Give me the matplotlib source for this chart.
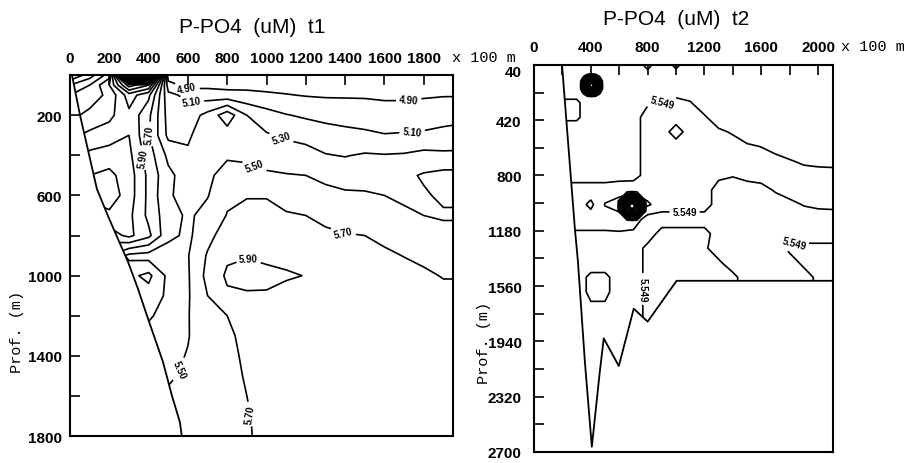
import numpy as np
import matplotlib.pyplot as plt

plt.rcParams['font.family'] = ['Liberation Sans', 'DejaVu Sans']

# ---------------- section t1 ----------------
# station distance (x 100 m) and sample depths (m)
T1_X = [0, 100, 200, 300, 400, 500, 600, 700, 800, 900, 1000,
        1100, 1200, 1300, 1400, 1500, 1600, 1700, 1800, 1900, 2000]
T1_DEPTH = [0, 50, 100, 200, 300, 400, 500, 600, 700, 800, 900,
            1000, 1100, 1200, 1300, 1400, 1500, 1600, 1700, 1800]
# P-PO4 (uM), one profile per station, surface to bottom
T1_PO4 = [
    [4.90, 5.30, 5.50, 5.65, 5.85, 6.00, 6.10, 6.20, 6.10, 5.90, 5.70, 5.60, 5.50, 5.45, 5.45, 5.45, 5.45, 5.45, 5.45, 5.45],
    [5.20, 5.50, 5.60, 5.75, 5.95, 6.15, 6.30, 6.35, 6.20, 6.00, 5.80, 5.60, 5.50, 5.45, 5.45, 5.45, 5.45, 5.45, 5.45, 5.45],
    [5.60, 5.90, 5.75, 5.85, 6.00, 6.20, 6.35, 6.42, 6.25, 6.00, 5.70, 5.60, 5.50, 5.45, 5.45, 5.45, 5.45, 5.45, 5.45, 5.45],
    [9.00, 6.80, 6.20, 6.05, 6.10, 6.15, 6.20, 6.20, 6.15, 6.15, 5.45, 5.65, 5.60, 5.50, 5.45, 5.45, 5.45, 5.45, 5.45, 5.45],
    [9.00, 6.50, 5.95, 5.75, 5.72, 5.80, 5.85, 5.85, 5.85, 5.95, 5.42, 5.75, 5.62, 5.52, 5.45, 5.45, 5.45, 5.45, 5.45, 5.45],
    [4.75, 5.00, 5.15, 5.22, 5.25, 5.45, 5.55, 5.52, 5.58, 5.55, 5.40, 5.45, 5.46, 5.44, 5.43, 5.45, 5.48, 5.52, 5.55, 5.55],
    [4.72, 4.82, 5.05, 5.20, 5.27, 5.33, 5.40, 5.44, 5.47, 5.46, 5.49, 5.48, 5.48, 5.49, 5.49, 5.51, 5.53, 5.54, 5.55, 5.55],
    [4.78, 4.85, 5.00, 5.36, 5.42, 5.45, 5.47, 5.49, 5.56, 5.64, 5.72, 5.76, 5.70, 5.64, 5.62, 5.60, 5.58, 5.57, 5.56, 5.56],
    [4.78, 4.84, 4.97, 5.62, 5.40, 5.48, 5.56, 5.66, 5.71, 5.80, 5.87, 5.93, 5.87, 5.70, 5.66, 5.64, 5.63, 5.62, 5.61, 5.60],
    [4.78, 4.85, 4.95, 5.30, 5.38, 5.47, 5.55, 5.69, 5.75, 5.82, 5.89, 5.96, 5.88, 5.80, 5.76, 5.74, 5.72, 5.70, 5.68, 5.67],
    [4.78, 4.84, 4.93, 5.18, 5.32, 5.44, 5.52, 5.69, 5.75, 5.80, 5.86, 5.95, 5.88, 5.82, 5.80, 5.79, 5.78, 5.78, 5.78, 5.78],
    [4.78, 4.83, 4.91, 5.11, 5.27, 5.40, 5.51, 5.62, 5.72, 5.78, 5.85, 5.92, 5.84, 5.80, 5.79, 5.78, 5.78, 5.78, 5.78, 5.78],
    [4.78, 4.82, 4.89, 5.07, 5.24, 5.37, 5.50, 5.60, 5.70, 5.77, 5.85, 5.895, 5.83, 5.80, 5.79, 5.78, 5.78, 5.78, 5.78, 5.78],
    [4.78, 4.82, 4.88, 5.04, 5.19, 5.31, 5.45, 5.56, 5.66, 5.73, 5.79, 5.83, 5.81, 5.80, 5.79, 5.78, 5.78, 5.78, 5.78, 5.78],
    [4.78, 4.82, 4.88, 5.02, 5.16, 5.29, 5.42, 5.53, 5.63, 5.71, 5.77, 5.80, 5.80, 5.80, 5.79, 5.79, 5.78, 5.78, 5.78, 5.78],
    [4.78, 4.82, 4.88, 5.00, 5.14, 5.32, 5.43, 5.52, 5.62, 5.70, 5.76, 5.79, 5.80, 5.80, 5.79, 5.79, 5.78, 5.78, 5.78, 5.78],
    [4.78, 4.82, 4.87, 4.98, 5.11, 5.31, 5.42, 5.50, 5.58, 5.66, 5.73, 5.78, 5.80, 5.80, 5.79, 5.79, 5.78, 5.78, 5.78, 5.78],
    [4.78, 4.82, 4.87, 4.98, 5.12, 5.32, 5.46, 5.47, 5.53, 5.60, 5.695, 5.76, 5.79, 5.80, 5.80, 5.79, 5.78, 5.78, 5.78, 5.78],
    [4.78, 4.83, 4.88, 5.00, 5.13, 5.36, 5.52, 5.48, 5.50, 5.58, 5.66, 5.73, 5.77, 5.79, 5.80, 5.80, 5.79, 5.78, 5.78, 5.78],
    [4.78, 4.84, 4.89, 5.02, 5.16, 5.34, 5.56, 5.53, 5.48, 5.56, 5.63, 5.69, 5.75, 5.78, 5.80, 5.80, 5.79, 5.78, 5.78, 5.78],
    [4.78, 4.84, 4.89, 5.04, 5.18, 5.34, 5.56, 5.53, 5.48, 5.56, 5.63, 5.69, 5.75, 5.78, 5.80, 5.80, 5.79, 5.78, 5.78, 5.78],
]
# continental slope (bottom profile)
T1_SLOPE_X = [10, 51, 137, 193, 244, 295, 346, 397, 473, 519, 559, 569]
T1_SLOPE_D = [0, 200, 568, 702, 817, 931, 1066, 1215, 1430, 1600, 1730, 1800]

# ---------------- section t2 ----------------
T2_X = [0, 100, 200, 300, 400, 500, 600, 700, 800, 900, 1000,
        1100, 1200, 1300, 1400, 1500, 1600, 1700, 1800, 1900, 2000, 2100]
T2_DEPTH = [0, 100, 200, 300, 400, 500, 600, 700, 800, 900, 1000, 1100,
            1200, 1300, 1400, 1500, 1600, 1800, 2000, 2200, 2400, 2600, 2800]
T2_PO4 = [
    [5.45, 5.45, 5.45, 5.58, 5.58, 5.45, 5.45, 5.45, 5.45, 5.65, 5.65, 5.65, 5.45, 5.45, 5.45, 5.45, 5.45, 5.45, 5.45, 5.45, 5.45, 5.45, 5.45],
    [5.45, 5.45, 5.45, 5.58, 5.58, 5.45, 5.45, 5.45, 5.45, 5.65, 5.65, 5.65, 5.45, 5.45, 5.45, 5.45, 5.45, 5.45, 5.45, 5.45, 5.45, 5.45, 5.45],
    [5.45, 5.45, 5.45, 5.58, 5.58, 5.45, 5.45, 5.45, 5.45, 5.65, 5.65, 5.65, 5.45, 5.45, 5.45, 5.45, 5.45, 5.45, 5.45, 5.45, 5.45, 5.45, 5.45],
    [5.45, 5.45, 5.45, 5.58, 5.58, 5.45, 5.45, 5.45, 5.45, 5.65, 5.65, 5.65, 5.52, 5.45, 5.45, 5.45, 5.45, 5.45, 5.45, 5.45, 5.45, 5.45, 5.45],
    [5.45, 5.48, 5.52, 5.45, 5.45, 5.45, 5.45, 5.45, 5.45, 5.65, 5.50, 5.65, 5.52, 5.45, 5.45, 5.30, 5.30, 5.45, 5.45, 5.45, 5.45, 5.45, 5.45],
    [5.45, 5.45, 5.45, 5.45, 5.45, 5.45, 5.45, 5.45, 5.45, 5.65, 5.76, 5.65, 5.52, 5.45, 5.45, 5.30, 5.30, 5.45, 5.45, 5.45, 5.45, 5.45, 5.45],
    [5.45, 5.45, 5.45, 5.45, 5.45, 5.45, 5.45, 5.45, 5.45, 5.70, 5.80, 5.70, 5.52, 5.45, 5.45, 5.45, 5.45, 5.45, 5.45, 5.45, 5.45, 5.45, 5.45],
    [5.45, 5.45, 5.45, 5.45, 5.45, 5.45, 5.45, 5.45, 5.45, 5.72, 5.85, 5.68, 5.50, 5.45, 5.45, 5.45, 5.45, 5.45, 5.45, 5.45, 5.45, 5.45, 5.45],
    [5.80, 5.45, 5.45, 5.52, 5.65, 5.65, 5.65, 5.65, 5.65, 5.65, 5.78, 5.45, 5.45, 5.60, 5.60, 5.60, 5.60, 5.60, 5.60, 5.60, 5.60, 5.60, 5.60],
    [5.45, 5.45, 5.45, 5.55, 5.65, 5.65, 5.65, 5.65, 5.65, 5.65, 5.65, 5.45, 5.62, 5.60, 5.60, 5.60, 5.60, 5.60, 5.60, 5.60, 5.60, 5.60, 5.60],
    [5.75, 5.45, 5.45, 5.60, 5.65, 5.45, 5.65, 5.65, 5.65, 5.65, 5.65, 5.45, 5.62, 5.60, 5.60, 5.60, 5.60, 5.60, 5.60, 5.60, 5.60, 5.60, 5.60],
    [5.45, 5.45, 5.45, 5.56, 5.65, 5.65, 5.65, 5.65, 5.65, 5.65, 5.65, 5.45, 5.62, 5.60, 5.60, 5.60, 5.60, 5.60, 5.60, 5.60, 5.60, 5.60, 5.60],
    [5.45, 5.45, 5.45, 5.45, 5.57, 5.65, 5.65, 5.65, 5.65, 5.65, 5.65, 5.45, 5.62, 5.58, 5.60, 5.60, 5.60, 5.60, 5.60, 5.60, 5.60, 5.60, 5.60],
    [5.45, 5.45, 5.45, 5.45, 5.45, 5.58, 5.65, 5.65, 5.60, 5.45, 5.45, 5.45, 5.45, 5.45, 5.58, 5.60, 5.60, 5.60, 5.60, 5.60, 5.60, 5.60, 5.60],
    [5.45, 5.45, 5.45, 5.45, 5.45, 5.53, 5.62, 5.65, 5.56, 5.45, 5.45, 5.45, 5.45, 5.45, 5.45, 5.60, 5.60, 5.60, 5.60, 5.60, 5.60, 5.60, 5.60],
    [5.45, 5.45, 5.45, 5.45, 5.45, 5.46, 5.57, 5.65, 5.60, 5.47, 5.45, 5.45, 5.45, 5.45, 5.45, 5.45, 5.45, 5.45, 5.45, 5.45, 5.45, 5.45, 5.45],
    [5.45, 5.45, 5.45, 5.45, 5.45, 5.45, 5.545, 5.62, 5.63, 5.48, 5.45, 5.45, 5.45, 5.45, 5.45, 5.45, 5.45, 5.45, 5.45, 5.45, 5.45, 5.45, 5.45],
    [5.45, 5.45, 5.45, 5.45, 5.45, 5.45, 5.47, 5.62, 5.65, 5.57, 5.45, 5.45, 5.45, 5.45, 5.45, 5.45, 5.45, 5.45, 5.45, 5.45, 5.45, 5.45, 5.45],
    [5.45, 5.45, 5.45, 5.45, 5.45, 5.45, 5.45, 5.56, 5.65, 5.63, 5.50, 5.45, 5.45, 5.60, 5.45, 5.45, 5.45, 5.45, 5.45, 5.45, 5.45, 5.45, 5.45],
    [5.45, 5.45, 5.45, 5.45, 5.45, 5.45, 5.45, 5.52, 5.62, 5.65, 5.56, 5.45, 5.45, 5.60, 5.60, 5.45, 5.45, 5.45, 5.45, 5.45, 5.45, 5.45, 5.45],
    [5.45, 5.45, 5.45, 5.45, 5.45, 5.45, 5.45, 5.50, 5.62, 5.65, 5.59, 5.45, 5.45, 5.60, 5.60, 5.60, 5.60, 5.60, 5.60, 5.60, 5.60, 5.60, 5.60],
    [5.45, 5.45, 5.45, 5.45, 5.45, 5.45, 5.45, 5.49, 5.62, 5.65, 5.60, 5.45, 5.45, 5.60, 5.60, 5.60, 5.60, 5.60, 5.60, 5.60, 5.60, 5.60, 5.60],
]
# the two PO4 maxima of t2, sampled on a finer local grid (rows = depth)
T2_PEAK1_X = [324, 351, 378, 405, 432, 459, 486]
T2_PEAK1_D = [99, 126, 153, 180, 207, 234, 261]
T2_PEAK1 = [
    [5.40, 5.40, 5.40, 5.40, 5.40, 5.40, 5.40],
    [5.40, 5.61, 6.32, 6.60, 6.32, 5.61, 5.40],
    [5.40, 6.32, 7.30, 7.80, 7.30, 6.32, 5.40],
    [5.40, 6.60, 7.80, 9.00, 7.80, 6.60, 5.40],
    [5.40, 6.32, 7.30, 7.80, 7.30, 6.32, 5.40],
    [5.40, 5.61, 6.32, 6.60, 6.32, 5.61, 5.40],
    [5.40, 5.40, 5.40, 5.40, 5.40, 5.40, 5.40],
]
T2_PEAK2_X = [585, 620, 655, 690, 725, 760, 795]
T2_PEAK2_D = [905, 940, 975, 1010, 1045, 1080, 1115]
T2_PEAK2 = [
    [5.80, 5.80, 5.80, 5.80, 5.80, 5.80, 5.80],
    [5.80, 5.80, 6.47, 6.73, 6.47, 5.80, 5.80],
    [5.80, 6.47, 7.40, 7.87, 7.40, 6.47, 5.80],
    [5.80, 6.73, 7.87, 9.00, 7.87, 6.73, 5.80],
    [5.80, 6.47, 7.40, 7.87, 7.40, 6.47, 5.80],
    [5.80, 5.80, 6.47, 6.73, 6.47, 5.80, 5.80],
    [5.80, 5.80, 5.80, 5.80, 5.80, 5.80, 5.80],
]
# bottom: canyon wall, deep channel and shelf
T2_BOTTOM_X = [194, 197, 246, 288, 309, 358, 407, 463, 491, 597, 702, 800, 1004, 2110]
T2_BOTTOM_D = [0, 40, 650, 1170, 1390, 2080, 2665, 2150, 1920, 2110, 1716, 1805, 1524, 1524]

T1_LEVELS = np.round(np.arange(4.9, 8.95, 0.2), 2)
T2_LEVELS = np.round(np.arange(5.349, 8.4, 0.2), 3)

# where the isoline values are written (level, [(x, depth), ...])
T1_LABEL_AT = [
    (4.9, [(595, 67), (1724, 128)]),
    (5.1, [(618, 132), (1741, 287)]),
    (5.3, [(1073, 318)]),
    (5.5, [(937, 458), (552, 1465)]),
    (5.7, [(1390, 785), (405, 294), (915, 1690)]),
    (5.9, [(910, 912), (365, 413)]),
]
T2_LABEL_AT = [
    (5.549, [(900, 300), (1060, 1050), (770, 1580), (1830, 1266)]),
]

MONO = ['Liberation Mono', 'DejaVu Sans Mono']
LW = 1.2


def draw_section(ax, xs, depths, profiles, levels, fmt, label_at,
                 bottom_x, bottom_d, land_x, land_d, patches=()):
    field = np.array(profiles).T
    cs = ax.contour(xs, depths, field, levels=levels, colors='black',
                    linewidths=LW)
    for px, pd_, pz in patches:
        ax.contour(px, pd_, np.array(pz), levels=levels, colors='black',
                   linewidths=LW)
    ax.fill(land_x, land_d, color='white', lw=0, zorder=2.2)
    ax.plot(bottom_x, bottom_d, color='black', lw=1.3, zorder=2.3)
    # set up label properties, then put each label on its own level
    ax.clabel(cs, manual=[], inline=True, fmt=fmt, fontsize=7)
    for lev, spots in label_at:
        idx = int(np.argmin(np.abs(cs.levels - lev)))
        cs.labelIndiceList = [idx]
        for x, y in spots:
            cs.add_label_near(x, y, inline=True, inline_spacing=3)
    for t in cs.labelTexts:
        t.set_fontweight('bold')
    ax.set_axisbelow(False)
    for sp in ax.spines.values():
        sp.set_linewidth(1.5)
    ax.xaxis.tick_top()
    ax.tick_params(which='both', direction='in', length=7, width=1.2,
                   top=True, bottom=False, left=True, right=False,
                   labelsize=11)
    return cs


fig = plt.figure(figsize=(9.09, 4.64), dpi=100)
ax1 = fig.add_axes([0.077, 0.058, 0.421, 0.778])
ax2 = fig.add_axes([0.5875, 0.024, 0.329, 0.834])

# t1
draw_section(ax1, T1_X, T1_DEPTH, T1_PO4, T1_LEVELS, '%.2f', T1_LABEL_AT,
             T1_SLOPE_X, T1_SLOPE_D,
             T1_SLOPE_X + [575, -100, -100], T1_SLOPE_D + [1900, 1900, -50])
ax1.set_xlim(0, 1947)
ax1.set_ylim(1800, 0)
ax1.set_xticks([0, 200, 400, 600, 800, 1000, 1200, 1400, 1600, 1800])
ax1.set_yticks([200, 600, 1000, 1400, 1800])
ax1.set_yticks([400, 800, 1200, 1600], minor=True)
ax1.tick_params(axis='x', pad=7)
ax1.tick_params(axis='y', pad=6)

# t2
draw_section(ax2, T2_X, T2_DEPTH, T2_PO4, T2_LEVELS, '%.3f', T2_LABEL_AT,
             T2_BOTTOM_X, T2_BOTTOM_D,
             T2_BOTTOM_X + [2300, 2300, -100, -100],
             T2_BOTTOM_D + [1524, 3000, 3000, 0],
             patches=[(T2_PEAK1_X, T2_PEAK1_D, T2_PEAK1),
                      (T2_PEAK2_X, T2_PEAK2_D, T2_PEAK2)])
ax2.set_xlim(0, 2106)
ax2.set_ylim(2700, 40)
ax2.set_xticks([0, 400, 800, 1200, 1600, 2000])
ax2.set_xticks([200, 600, 1000, 1400, 1800], minor=True)
ax2.set_yticks([40, 420, 800, 1180, 1560, 1940, 2320, 2700])
ax2.set_yticks([230, 610, 990, 1370, 1750, 2130, 2510], minor=True)
ax2.tick_params(axis='x', pad=8)
ax2.tick_params(axis='y', pad=9)

for ax in (ax1, ax2):
    for lab in ax.get_xticklabels() + ax.get_yticklabels():
        lab.set_fontweight('bold')
# the top depth label sits just under its tick, as in the original
ax2.get_yticklabels()[0].set_va('top')

fig.text(0.277, 0.94, 'P-PO4  (uM)  t1', fontsize=15, ha='center', va='center')
fig.text(0.744, 0.957, 'P-PO4  (uM)  t2', fontsize=15, ha='center', va='center')
fig.text(0.497, 0.876, 'x 100 m', fontsize=11, family=MONO, ha='left', va='center')
fig.text(0.925, 0.899, 'x 100 m', fontsize=11, family=MONO, ha='left', va='center')
fig.text(0.019, 0.285, 'Prof. (m)', fontsize=11, family=MONO, rotation=90,
         ha='center', va='center')
fig.text(0.532, 0.261, 'Prof. (m)', fontsize=11, family=MONO, rotation=90,
         ha='center', va='center')

fig.savefig('out.png', dpi=100)
